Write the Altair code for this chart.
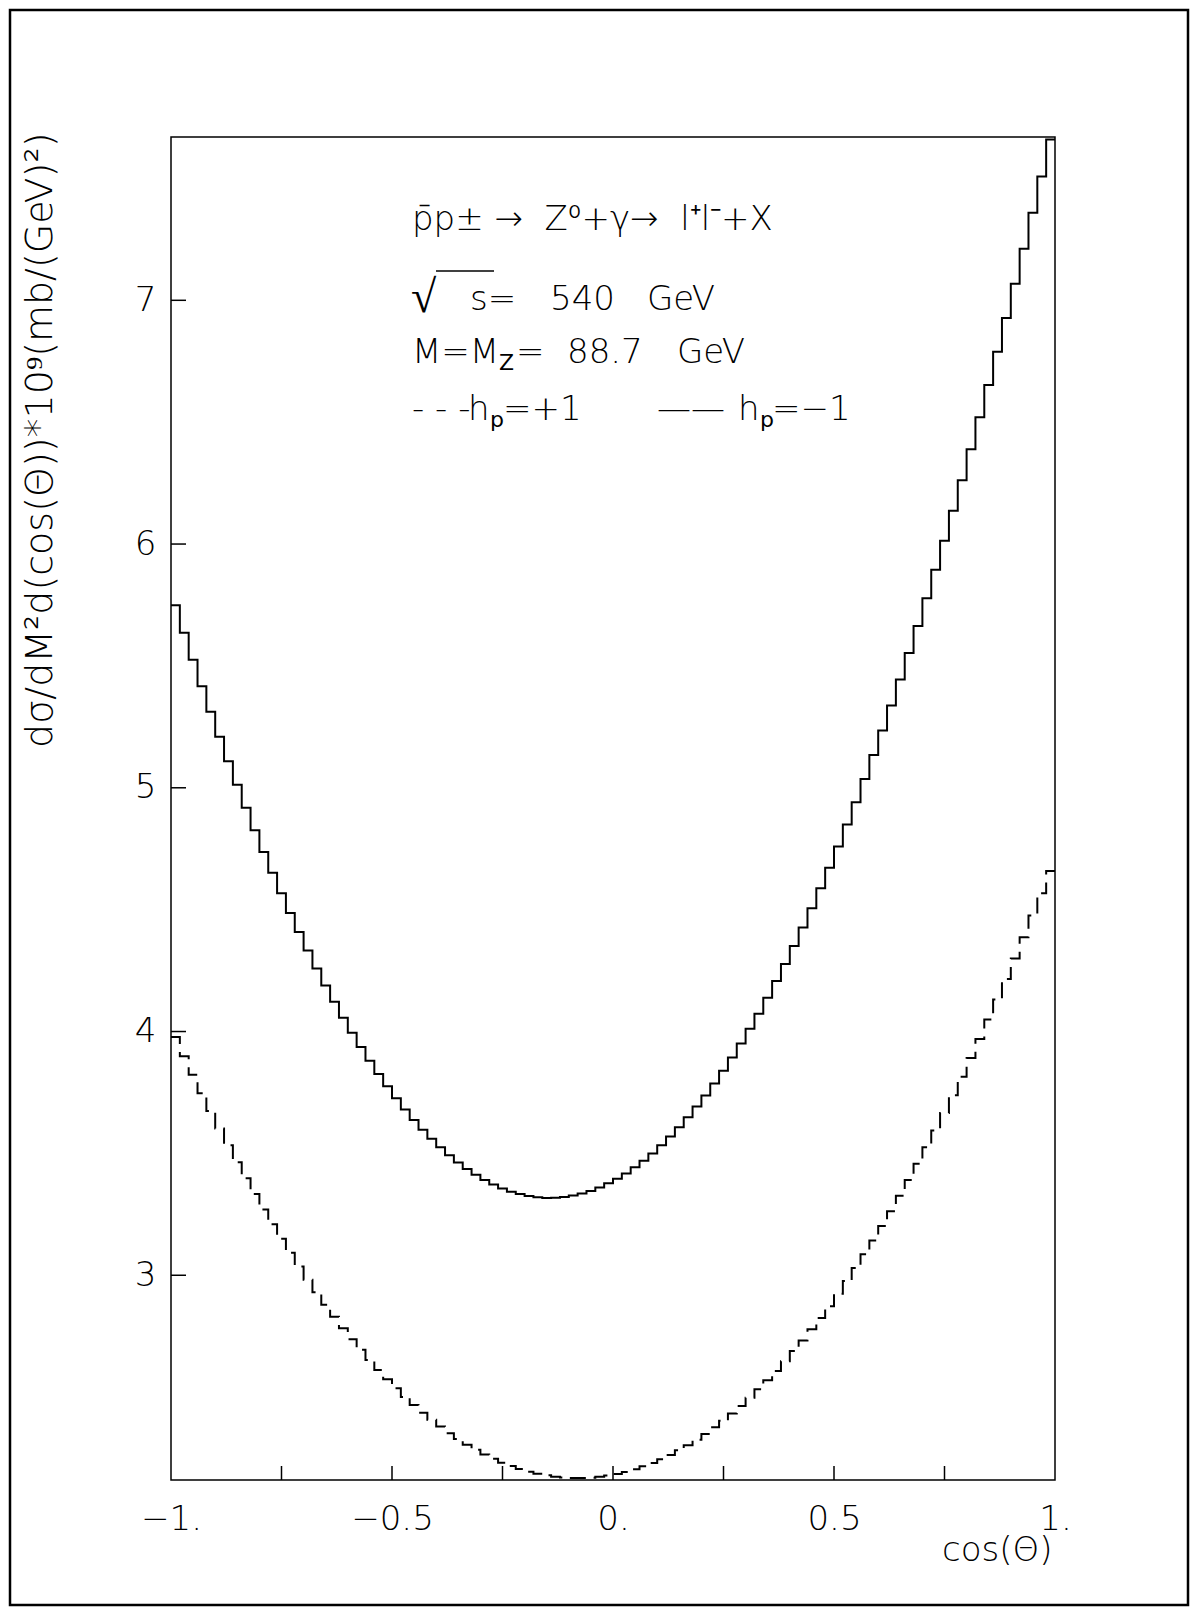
import altair as alt
import pandas as pd

# ---- data ----
# left edges of the 100 bins of cos(theta)
cos_lo = [round(-1 + 0.02 * i, 2) for i in range(100)]

# h_p = -1 (solid)
hm1 = [5.749, 5.636, 5.525, 5.417, 5.312, 5.209, 5.109, 5.012, 4.918, 4.826,
       4.737, 4.651, 4.567, 4.486, 4.408, 4.332, 4.259, 4.189, 4.122, 4.057,
       3.995, 3.936, 3.880, 3.826, 3.775, 3.726, 3.680, 3.637, 3.597, 3.560,
       3.525, 3.492, 3.463, 3.436, 3.412, 3.391, 3.372, 3.356, 3.343, 3.333,
       3.325, 3.320, 3.317, 3.318, 3.321, 3.327, 3.335, 3.346, 3.360, 3.377,
       3.396, 3.418, 3.443, 3.470, 3.500, 3.533, 3.569, 3.607, 3.648, 3.692,
       3.738, 3.787, 3.839, 3.893, 3.951, 4.011, 4.073, 4.139, 4.207, 4.277,
       4.351, 4.427, 4.506, 4.588, 4.672, 4.759, 4.849, 4.941, 5.036, 5.134,
       5.235, 5.338, 5.444, 5.553, 5.664, 5.778, 5.895, 6.014, 6.137, 6.262,
       6.389, 6.520, 6.653, 6.789, 6.927, 7.068, 7.212, 7.359, 7.508, 7.660]

# h_p = +1 (dashed)
hp1 = [3.978, 3.899, 3.823, 3.747, 3.674, 3.602, 3.533, 3.464, 3.398, 3.333,
       3.270, 3.209, 3.150, 3.092, 3.036, 2.982, 2.930, 2.879, 2.830, 2.783,
       2.737, 2.694, 2.652, 2.611, 2.573, 2.536, 2.501, 2.468, 2.436, 2.407,
       2.379, 2.352, 2.328, 2.305, 2.284, 2.265, 2.247, 2.231, 2.217, 2.205,
       2.194, 2.186, 2.179, 2.173, 2.170, 2.168, 2.168, 2.169, 2.173, 2.178,
       2.185, 2.193, 2.204, 2.216, 2.230, 2.245, 2.263, 2.282, 2.303, 2.325,
       2.349, 2.376, 2.403, 2.433, 2.464, 2.497, 2.532, 2.569, 2.607, 2.647,
       2.689, 2.732, 2.778, 2.825, 2.873, 2.924, 2.976, 3.030, 3.086, 3.143,
       3.202, 3.263, 3.326, 3.391, 3.457, 3.525, 3.594, 3.666, 3.739, 3.814,
       3.891, 3.969, 4.049, 4.131, 4.215, 4.300, 4.387, 4.476, 4.567, 4.659]

x_tick_marks = [-0.75, -0.5, -0.25, 0.0, 0.25, 0.5, 0.75]
x_label_vals = [-1, -0.5, 0, 0.5, 1]
x_label_text = ["\u22121.", "\u22120.5", "0.", "0.5", "1."]
y_tick_vals = [3, 4, 5, 6, 7]

x_title = "cos(\u0398)"
y_title = "d\u03c3/dM\u00b2d(cos(\u0398))*10\u2079(mb/(GeV)\u00b2)"

# annotation pieces: text, x, y (plot pixels), font size, weight
notes = [
    ("p\u0304p\u00b1\u00a0\u2192\u00a0\u00a0Z\u2070+\u03b3\u2192\u00a0\u00a0l\u207al\u207b+X", 241, 93, 34, 200),
    ("\u221a", 240, 175, 46, 200),
    ("s=", 299, 173, 34, 200),
    ("540", 379, 173, 34, 200),
    ("GeV", 476, 173, 34, 200),
    ("M=M", 241, 226, 34, 200),
    ("Z", 328, 233, 22, 400),
    ("=", 345, 226, 34, 200),
    ("88.7", 396, 226, 34, 200),
    ("GeV", 506, 226, 34, 200),
    ("-\u00a0-\u00a0-", 241, 283, 34, 200),
    ("h", 297, 283, 34, 200),
    ("p", 319, 290, 22, 400),
    ("=+1", 332, 283, 34, 200),
    ("\u2014\u2014", 486, 283, 34, 200),
    ("h", 567, 283, 34, 200),
    ("p", 589, 290, 22, 400),
    ("=\u22121", 601, 283, 34, 200),
]

FONT = "DejaVu Sans"
W, H = 884, 1343

def steps(vals):
    return pd.DataFrame({"cos": cos_lo + [1.0], "val": vals + [vals[-1]]})

xs = alt.Scale(domain=[-1, 1], nice=False, zero=False)
ys = alt.Scale(domain=[2.16, 7.67], nice=False, zero=False)

label_expr = " : ".join(
    f"datum.value == {v} ? '{t}'" for v, t in zip(x_label_vals, x_label_text)
) + " : ''"

x_axis = alt.Axis(values=x_label_vals, labelExpr=label_expr, ticks=False, tickSize=0,
                  domain=False, grid=False, labelPadding=22, labelFont=FONT,
                  labelFontSize=34, labelFontWeight=200, labelColor="black",
                  labelFlush=False, labelOverlap=False,
                  title=x_title, titleFont=FONT, titleFontSize=34, titleFontWeight=200,
                  titleColor="black", titleX=881, titleY=70, titleAlign="right",
                  titleBaseline="middle", titleAnchor="end")
y_axis = alt.Axis(values=y_tick_vals, ticks=False, tickSize=0, domain=False, grid=False,
                  labelPadding=15, labelFont=FONT, labelFontSize=34, labelFontWeight=200,
                  labelColor="black", labelFlush=False, labelOverlap=False,
                  title=y_title, titleFont=FONT, titleFontSize=38, titleFontWeight=200,
                  titleColor="black", titleAngle=-90, titleX=-131, titleY=-5,
                  titleAlign="right", titleBaseline="middle")

X = alt.X("cos:Q", scale=xs, axis=x_axis)
Y = alt.Y("val:Q", scale=ys, axis=y_axis)

solid = alt.Chart(steps(hm1)).mark_line(
    interpolate="step-after", color="black", strokeWidth=2
).encode(x=X, y=Y)

dashed = alt.Chart(steps(hp1)).mark_line(
    interpolate="step-after", color="black", strokeWidth=2, strokeDash=[16, 8]
).encode(x=X, y=Y)

xticks = alt.Chart(pd.DataFrame({"cos": x_tick_marks})).mark_rule(
    color="black", strokeWidth=1.5
).encode(x=X, y=alt.value(H), y2=alt.value(H - 14))

yticks = alt.Chart(pd.DataFrame({"val": y_tick_vals})).mark_rule(
    color="black", strokeWidth=1.5
).encode(y=Y, x=alt.value(0), x2=alt.value(15))

one = alt.Data(values=[{"k": 1}])
frame = alt.Chart(one).mark_rect(
    fillOpacity=0, stroke="black", strokeWidth=2.5
).encode(x=alt.value(-161), x2=alt.value(1017), y=alt.value(-127), y2=alt.value(1468))

sqrt_bar = alt.Chart(one).mark_rule(color="black", strokeWidth=1.5).encode(
    x=alt.value(265), x2=alt.value(323), y=alt.value(134))

texts = [
    alt.Chart(one).mark_text(text=t, align="left", baseline="alphabetic", font=FONT,
                             fontSize=fs, fontWeight=fw, color="black")
    .encode(x=alt.value(x), y=alt.value(y))
    for t, x, y, fs, fw in notes
]

chart = alt.layer(solid, dashed, xticks, yticks, frame, sqrt_bar, *texts).properties(
    width=W, height=H,
    background="white",
    autosize=alt.AutoSizeParams(type="none"),
    padding={"left": 163, "top": 129, "right": 136, "bottom": 128},
).configure_view(stroke="black", strokeWidth=1.5)

chart.save("out.html", embed_options={"renderer": "svg", "actions": False})
